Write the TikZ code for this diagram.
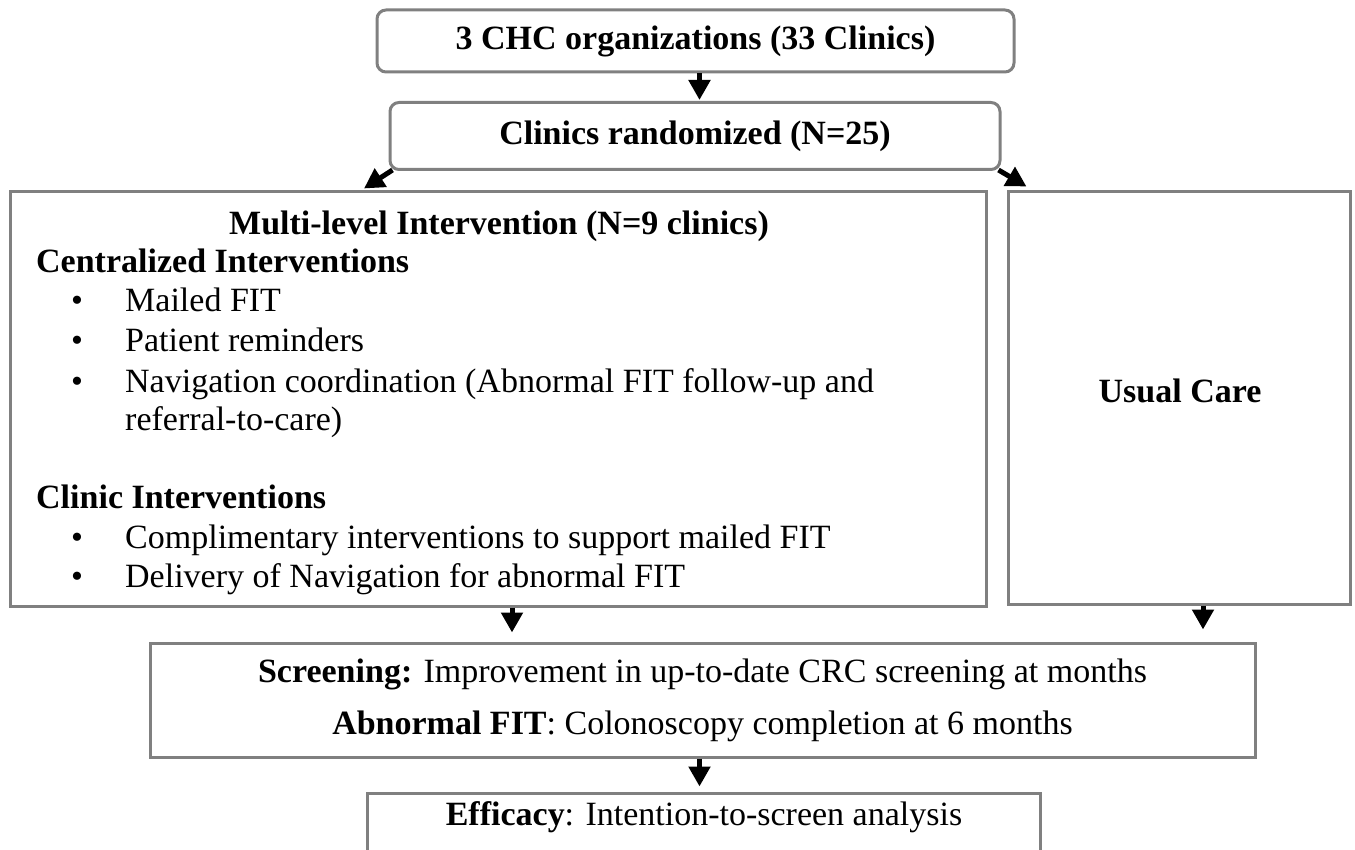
\documentclass[tikz,border=0pt]{standalone}
\usepackage{fontspec}
\setmainfont{Liberation Serif}
\usetikzlibrary{arrows.meta,positioning,calc}
\definecolor{boxgray}{HTML}{808080}

\begin{document}
\begin{tikzpicture}[x=1pt,y=-1pt,
  every node/.style={font=\fontsize{34}{39}\selectfont},
  stage/.style={rectangle,rounded corners=9pt,draw=boxgray,line width=3pt,inner sep=0pt},
  panel/.style={rectangle,draw=boxgray,line width=3pt,inner sep=0pt},
  item/.style={anchor=base west,inner sep=0pt},
  dot/.style={anchor=base,inner sep=0pt},
  arrow/.style={-{Triangle[length=20pt,width=21pt]},line width=5pt,color=black}
]
\useasboundingbox (0,0) rectangle (1355,850);

\node[stage,minimum width=637pt,minimum height=62pt] (orgs) at (695.5,41) {\bfseries 3 CHC organizations (33 Clinics)};
\node[stage,minimum width=610pt,minimum height=67pt] (rand) at (695,136) {\bfseries Clinics randomized (N=25)};

\node[panel,minimum width=976pt,minimum height=414pt] (multi) at (498,399) {};
\node[panel,minimum width=342pt,minimum height=412pt] (usual) at (1179,398) {};
\node[dot] (usualtext) at (1180,402) {\bfseries Usual Care};

% intervention arm contents
\node[dot] (multihead) at (499,235) {\bfseries Multi-level Intervention (N=9 clinics)};
\node[item] (central) at (36,273) {\bfseries Centralized Interventions};
\node[dot] (b1) at (77,312) {\textbullet};
\node[item] (mailed) at (125,312) {Mailed FIT};
\node[dot] (b2) at (77,352) {\textbullet};
\node[item] (remind) at (125,352) {Patient reminders};
\node[dot] (b3) at (77,392) {\textbullet};
\node[item] (navig) at (125,392) {Navigation coordination (Abnormal FIT follow-up and};
\node[item] (referral) at (125,430) {referral-to-care)};
\node[item] (clinic) at (36,508) {\bfseries Clinic Interventions};
\node[dot] (b4) at (77,548) {\textbullet};
\node[item] (compl) at (125,548) {Complimentary interventions to support mailed FIT};
\node[dot] (b5) at (77,587) {\textbullet};
\node[item] (deliver) at (125,587) {Delivery of Navigation for abnormal FIT};

\node[panel,minimum width=1105pt,minimum height=114pt,align=center,font=\fontsize{34}{52}\selectfont] (outcome) at (702.5,700)
  {\textbf{Screening:} Improvement in up-to-date CRC screening at months\\\textbf{Abnormal FIT}: Colonoscopy completion at 6 months};
\node[panel,minimum width=673pt,minimum height=80pt] (efficacy) at (703.5,833) {};
\node[dot] (efftext) at (704,825) {\textbf{Efficacy}: Intention-to-screen analysis};

\draw[arrow,shorten >=1pt] ([xshift=4pt]orgs.south) -- ([xshift=4pt]orgs.south |- rand.north);
\draw[arrow] ([shift={(4pt,1pt)}]rand.south west) -- ([shift={(-134pt,2pt)}]multi.north);
\draw[arrow] ([shift={(-3pt,1pt)}]rand.south east) -- ([shift={(20pt,4pt)}]usual.north west);
\draw[arrow,shorten >=9pt] ([xshift=14pt]multi.south) -- ([xshift=14pt]multi.south |- outcome.north);
\draw[arrow,shorten >=12pt] ([xshift=24pt]usual.south) -- ([xshift=24pt]usual.south |- outcome.north);
\draw[arrow,shorten >=5pt] ([xshift=-3pt]outcome.south) -- ([xshift=-3pt]outcome.south |- efficacy.north);
\end{tikzpicture}
\end{document}
